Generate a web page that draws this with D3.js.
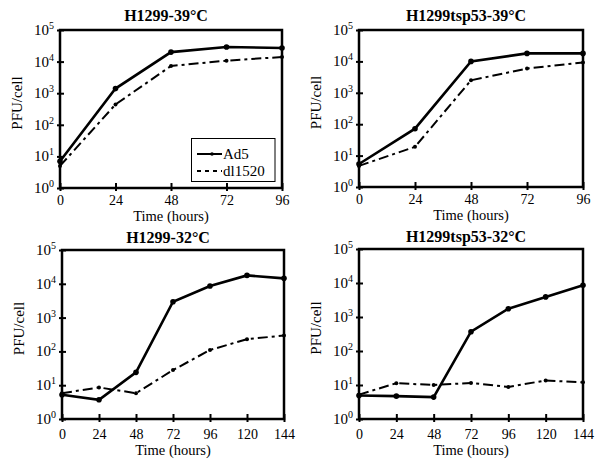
<!DOCTYPE html>
<html><head><meta charset="utf-8">
<script src="https://cdn.jsdelivr.net/npm/d3@7"></script>
<style>
body{margin:0;background:#fff;}
svg{display:block;font-family:"Liberation Serif","Times New Roman",serif;}
</style></head>
<body>
<svg id="c" width="603" height="471"></svg>
<script>
// ---- data ----
const titles = ["H1299-39°C","H1299tsp53-39°C","H1299-32°C","H1299tsp53-32°C"];
const times39 = [0,24,48,72,96];
const times32 = [0,24,48,72,96,120,144];
const yTickExps = [0,1,2,3,4,5];
const seriesNames = ["Ad5","dl1520"];
const ad5_H1299_39 = [7,1400,20000,29000,27000];
const dl_H1299_39 = [5,440,7300,10700,14000];
const ad5_tsp_39 = [5.4,72,10000,18000,18000];
const dl_tsp_39 = [4.7,19,2500,5900,9300];
const ad5_H1299_32 = [5.2,3.7,24,2950,8600,17700,14500];
const dl_H1299_32 = [5.8,8.6,5.8,28,110,230,295];
const ad5_tsp_32 = [4.9,4.7,4.4,370,1750,3900,8600];
const dl_tsp_32 = [5.2,11.3,10,11.5,8.8,13.6,12];

// ---- layout ----
const panels = [
  {title:titles[0], t:times39, a:ad5_H1299_39, d:dl_H1299_39, x0:60, x1:282, yT:30, yB:188, tb:9, lb:17, xb:33, legend:true},
  {title:titles[1], t:times39, a:ad5_tsp_39, d:dl_tsp_39, x0:359, x1:583, yT:30, yB:187, tb:9, lb:17, xb:33},
  {title:titles[2], t:times32, a:ad5_H1299_32, d:dl_H1299_32, x0:62, x1:284, yT:250, yB:419, tb:7, lb:20, xb:36},
  {title:titles[3], t:times32, a:ad5_tsp_32, d:dl_tsp_32, x0:359, x1:583, yT:249, yB:419, tb:7, lb:20, xb:36}
];
const svg = d3.select("#c");
const DASH = "10,4,3,4";

panels.forEach(p=>{
  const g = svg.append("g");
  const x = d3.scaleLinear().domain([0, d3.max(p.t)]).range([p.x0, p.x1]);
  const y = d3.scaleLog().domain([1,1e5]).range([p.yB, p.yT]);
  const cx = (p.x0+p.x1)/2, cy=(p.yT+p.yB)/2;

  // title
  g.append("text").attr("x", cx - 5).attr("y", p.yT-p.tb)
    .attr("text-anchor","middle").attr("font-weight","bold").attr("font-size",16)
    .text(p.title);

  // x axis
  const xa = g.append("g").attr("transform",`translate(0,${p.yB})`)
    .call(d3.axisBottom(x).tickValues(p.t).tickSize(3));
  xa.select(".domain").remove();
  xa.selectAll(".tick line").attr("y1",-5).attr("y2",3).attr("stroke-width",2);
  xa.selectAll(".tick text").attr("y",p.lb).attr("dy",0).attr("font-size",14)
    .attr("font-family","Liberation Serif, serif").attr("fill","#000");

  // y axis
  const ya = g.append("g").attr("transform",`translate(${p.x0},0)`)
    .call(d3.axisLeft(y).tickValues(yTickExps.map(e=>Math.pow(10,e))).tickSize(3).tickFormat(""));
  ya.select(".domain").remove();
  ya.selectAll(".tick line").attr("x1",-3).attr("x2",4).attr("stroke-width",2);
  yTickExps.forEach(e=>{
    const t = g.append("text").attr("x", p.x0-6).attr("y", y(Math.pow(10,e))+5)
      .attr("text-anchor","end").attr("font-size",15);
    t.append("tspan").text("10");
    t.append("tspan").attr("font-size",10).attr("dy",-6).text(e);
  });

  // frame
  g.append("rect").attr("x",p.x0).attr("y",p.yT).attr("width",p.x1-p.x0).attr("height",p.yB-p.yT)
    .attr("fill","none").attr("stroke","#000").attr("stroke-width",2.5);

  // axis titles
  g.append("text").attr("x", cx).attr("y", p.yB+p.xb).attr("text-anchor","middle")
    .attr("font-size",14.5).text("Time (hours)");
  g.append("text").attr("transform",`translate(${p.x0-38},${cy-6}) rotate(-90)`)
    .attr("text-anchor","middle").attr("font-size",15).text("PFU/cell");

  // lines
  const line = d3.line().x((d,i)=>x(p.t[i])).y(d=>y(d));
  g.append("path").datum(p.d).attr("d",line).attr("fill","none").attr("stroke","#000")
    .attr("stroke-width",2).attr("stroke-dasharray",DASH);
  g.selectAll(".dd").data(p.d).enter().append("circle")
    .attr("cx",(d,i)=>x(p.t[i])).attr("cy",d=>y(d)).attr("r",2);
  g.append("path").datum(p.a).attr("d",line).attr("fill","none").attr("stroke","#000")
    .attr("stroke-width",2.6);
  g.selectAll(".ad").data(p.a).enter().append("circle")
    .attr("cx",(d,i)=>x(p.t[i])).attr("cy",d=>y(d)).attr("r",2.8);

  if(p.legend){
    const L = g.append("g");
    L.append("rect").attr("x",191.5).attr("y",138.5).attr("width",83.5).attr("height",43)
      .attr("fill","#fff").attr("stroke","#000").attr("stroke-width",1);
    L.append("line").attr("x1",197).attr("x2",222).attr("y1",154).attr("y2",154)
      .attr("stroke","#000").attr("stroke-width",2);
    L.append("circle").attr("cx",212).attr("cy",154).attr("r",1.8);
    L.append("line").attr("x1",197).attr("x2",222).attr("y1",171).attr("y2",171)
      .attr("stroke","#000").attr("stroke-width",1.8).attr("stroke-dasharray","4,4");
    L.append("text").attr("x",223).attr("y",159).attr("font-size",15).text(seriesNames[0]);
    L.append("text").attr("x",223).attr("y",176).attr("font-size",15).text(seriesNames[1]);
  }
});
</script>
</body></html>
